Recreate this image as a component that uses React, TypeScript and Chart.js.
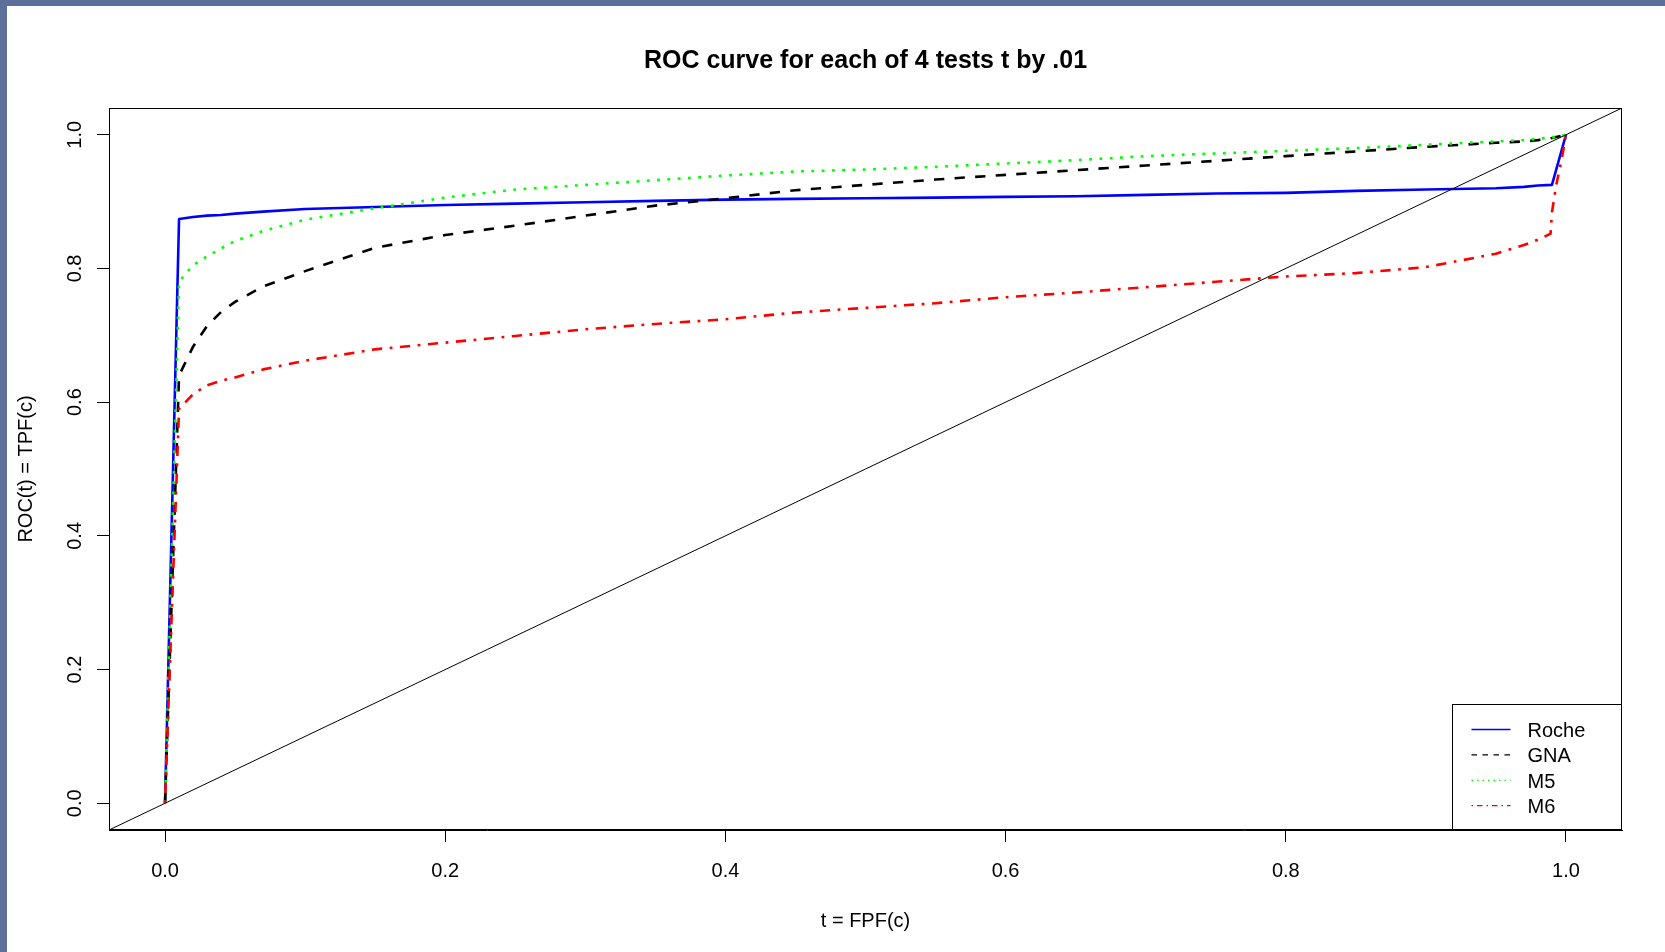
import React, { useEffect, useRef } from "react";
import { Chart, registerables } from "chart.js";

Chart.register(...registerables);

// ---------- data ----------
const fpf = [0, 0.01, 0.02, 0.03, 0.04, 0.05, 0.07, 0.1, 0.15, 0.2, 0.25, 0.3, 0.35, 0.4, 0.45, 0.5, 0.55, 0.6, 0.65, 0.7, 0.75, 0.8, 0.85, 0.9, 0.95, 0.97, 0.98, 0.99, 1.0];
const roche = [0, 0.874, 0.877, 0.879, 0.88, 0.882, 0.885, 0.889, 0.892, 0.895, 0.897, 0.899, 0.901, 0.903, 0.904, 0.905, 0.906, 0.907, 0.908, 0.91, 0.912, 0.913, 0.916, 0.918, 0.92, 0.922, 0.924, 0.925, 1.0];
const gna = [0, 0.64, 0.683, 0.714, 0.735, 0.75, 0.773, 0.796, 0.831, 0.85, 0.864, 0.879, 0.894, 0.905, 0.917, 0.925, 0.933, 0.94, 0.947, 0.954, 0.961, 0.968, 0.975, 0.982, 0.988, 0.99, 0.992, 0.995, 1.0];
const m5 = [0, 0.78, 0.805, 0.818, 0.83, 0.841, 0.856, 0.873, 0.89, 0.906, 0.918, 0.925, 0.932, 0.939, 0.945, 0.948, 0.952, 0.957, 0.962, 0.968, 0.972, 0.976, 0.98, 0.985, 0.99, 0.992, 0.994, 0.996, 1.0];
const m6Fpf = [0, 0.01, 0.02, 0.03, 0.04, 0.05, 0.07, 0.1, 0.15, 0.2, 0.25, 0.3, 0.35, 0.4, 0.45, 0.5, 0.55, 0.6, 0.65, 0.7, 0.75, 0.8, 0.85, 0.9, 0.95, 0.97, 0.98, 0.989, 0.99, 0.993, 0.997, 1.0];
const m6 = [0, 0.59, 0.612, 0.625, 0.632, 0.637, 0.649, 0.662, 0.679, 0.689, 0.699, 0.709, 0.717, 0.724, 0.734, 0.741, 0.748, 0.757, 0.764, 0.772, 0.78, 0.788, 0.793, 0.802, 0.822, 0.835, 0.843, 0.852, 0.884, 0.924, 0.964, 1.0];
const diagX = [-0.04, 1.04];
const diagY = [-0.04, 1.04];

const xTicks = [0, 0.2, 0.4, 0.6, 0.8, 1.0];
const yTicks = [0, 0.2, 0.4, 0.6, 0.8, 1.0];
const seriesNames = ["Roche", "GNA", "M5", "M6"];
const titleText = "ROC curve for each of 4 tests t by .01";
const xLabel = "t = FPF(c)";
const yLabel = "ROC(t) = TPF(c)";

// ---------- styles ----------
const FONT = "'Liberation Sans', Arial, Helvetica, sans-serif";
const FRAME = "#5d6f9b";
const seriesColors = ["#0000ff", "#000000", "#00ff00", "#ff0000"];
const seriesDash: number[][] = [[], [10.3, 10.3], [2.8, 7.5], [2.8, 7.5, 10.3, 7.5]];
const legendDash: number[][] = [[], [5.5, 5.5], [1.5, 4], [1.5, 4, 5.5, 4]];

const pts = (xs: number[], ys: number[]) => xs.map((x, i) => ({ x, y: ys[i] }));

const boxAndLegendPlugin = {
  id: "boxAndLegend",
  afterDatasetsDraw(chart: any) {
    const { ctx, chartArea } = chart;
    ctx.save();
    ctx.strokeStyle = "#000";
    ctx.lineWidth = 1;
    ctx.setLineDash([]);
    const l = Math.round(chartArea.left) + 0.5;
    const t = Math.round(chartArea.top) + 0.5;
    const r = Math.round(chartArea.right) - 0.5;
    const b = Math.round(chartArea.bottom) - 0.5;
    ctx.strokeRect(l, t, r - l, b - t);

    // legend (R style, bottom right inside plot)
    const lw = 169;
    const lh = 125;
    const lx = r - lw;
    const ly = b - lh;
    ctx.strokeRect(lx, ly, lw, lh);
    ctx.font = `20px ${FONT}`;
    ctx.textBaseline = "middle";
    ctx.textAlign = "left";
    seriesNames.forEach((name, i) => {
      const y = ly + 25 + i * 25.4;
      ctx.beginPath();
      ctx.strokeStyle = seriesColors[i];
      ctx.lineWidth = 1.3;
      ctx.setLineDash(legendDash[i]);
      ctx.moveTo(lx + 19, y);
      ctx.lineTo(lx + 58, y);
      ctx.stroke();
      ctx.setLineDash([]);
      ctx.fillStyle = "#000";
      ctx.fillText(name, lx + 75, y + 2);
    });
    ctx.restore();
  },
};

export default function App() {
  const ref = useRef<HTMLCanvasElement>(null);

  useEffect(() => {
    document.body.style.margin = "0";
    const canvas = ref.current;
    if (!canvas) return;
    Chart.defaults.font.family = FONT;
    Chart.defaults.color = "#000";

    const curveSets = [
      pts(fpf, roche),
      pts(fpf, gna),
      pts(fpf, m5),
      pts(m6Fpf, m6),
    ];

    const datasets: any[] = seriesNames.map((name, i) => ({
      label: name,
      data: curveSets[i],
      showLine: true,
      borderColor: seriesColors[i],
      backgroundColor: seriesColors[i],
      borderWidth: 2.6,
      borderDash: seriesDash[i],
      borderCapStyle: "butt",
      borderJoinStyle: "round",
      pointRadius: 0,
      tension: 0,
      fill: false,
      order: 4 - i,
    }));
    datasets.push({
      label: "diag",
      data: pts(diagX, diagY),
      showLine: true,
      borderColor: "#000",
      borderWidth: 1,
      pointRadius: 0,
      fill: false,
      order: 0,
    });

    const chart = new Chart(canvas, {
      type: "scatter",
      data: { datasets },
      options: {
        animation: false,
        responsive: false,
        devicePixelRatio: 1,
        layout: { padding: { left: 0, right: 43, top: 0, bottom: 0 } },
        plugins: {
          legend: { display: false },
          tooltip: { enabled: false },
          title: {
            display: true,
            text: titleText,
            fullSize: false,
            color: "#000",
            font: { family: FONT, size: 25, weight: "bold", lineHeight: 1.2 },
            padding: { top: 40.5, bottom: 31.5 },
          },
        },
        scales: {
          x: {
            type: "linear",
            position: "bottom",
            min: -0.04,
            max: 1.04,
            afterBuildTicks: (s: any) => {
              s.ticks = xTicks.map((v) => ({ value: v }));
            },
            afterFit: (s: any) => {
              s.height = 122;
            },
            ticks: {
              autoSkip: false,
              maxRotation: 0,
              padding: 17,
              color: "#000",
              font: { family: FONT, size: 20 },
              callback: (v: any) => Number(v).toFixed(1),
            },
            grid: { drawOnChartArea: false, drawTicks: true, tickLength: 12, color: "#000", lineWidth: 1 },
            border: { display: true, color: "#000", width: 1 },
            title: {
              display: true,
              text: xLabel,
              color: "#000",
              font: { family: FONT, size: 20 },
              padding: { top: 0, bottom: 18.4 },
            },
          },
          y: {
            type: "linear",
            position: "left",
            min: -0.04,
            max: 1.04,
            afterBuildTicks: (s: any) => {
              s.ticks = yTicks.map((v) => ({ value: v }));
            },
            afterFit: (s: any) => {
              s.width = 102;
            },
            ticks: {
              autoSkip: false,
              minRotation: 90,
              maxRotation: 90,
              crossAlign: "center",
              padding: 8,
              color: "#000",
              font: { family: FONT, size: 20 },
              callback: (v: any) => Number(v).toFixed(1),
            },
            grid: { drawOnChartArea: false, drawTicks: true, tickLength: 12, color: "#000", lineWidth: 1 },
            border: { display: true, color: "#000", width: 1 },
            title: {
              display: true,
              text: yLabel,
              color: "#000",
              font: { family: FONT, size: 20 },
              padding: { top: 7.7, bottom: 0 },
            },
          },
        },
      } as any,
      plugins: [boxAndLegendPlugin],
    });
    return () => chart.destroy();
  }, []);

  return (
    <div style={{ position: "relative", width: 1665, height: 952, background: FRAME, overflow: "hidden" }}>
      <div style={{ position: "absolute", left: 7, top: 6, width: 1658, height: 946, background: "#fff" }}>
        <canvas ref={ref} width={1658} height={946} style={{ display: "block", width: 1658, height: 946 }} />
      </div>
    </div>
  );
}
